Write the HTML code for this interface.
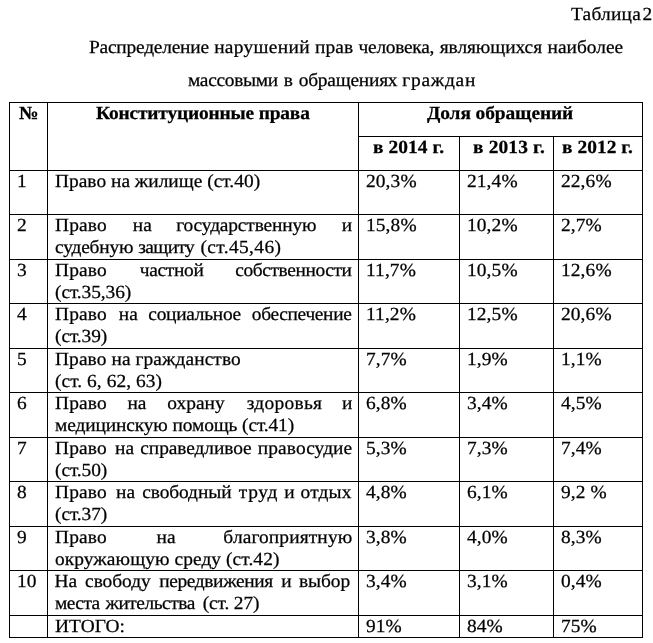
<!DOCTYPE html>
<html lang="ru"><head><meta charset="utf-8"><title>Таблица 2</title>
<style>
html,body{margin:0;padding:0;background:#fff}
body{width:653px;height:643px;position:relative;overflow:hidden;font-family:"Liberation Serif","Times New Roman",serif;font-size:18.5px;color:#000}
.h,.v{position:absolute;background:#000}
.h{height:1px}.v{width:1px}
.t{position:absolute;white-space:pre;-webkit-text-stroke:0.25px #000;text-rendering:geometricPrecision;line-height:20px;height:20px;transform-origin:0 0;transform:scaleX(1.049)}
.t span{position:absolute;top:0}
.b{font-weight:bold}
</style></head><body>

<div class="h" style="left:9px;top:102px;width:634px"></div>
<div class="h" style="left:358px;top:136px;width:285px"></div>
<div class="h" style="left:9px;top:170px;width:634px"></div>
<div class="h" style="left:9px;top:214px;width:634px"></div>
<div class="h" style="left:9px;top:259px;width:634px"></div>
<div class="h" style="left:9px;top:303px;width:634px"></div>
<div class="h" style="left:9px;top:348px;width:634px"></div>
<div class="h" style="left:9px;top:392px;width:634px"></div>
<div class="h" style="left:9px;top:437px;width:634px"></div>
<div class="h" style="left:9px;top:481px;width:634px"></div>
<div class="h" style="left:9px;top:526px;width:634px"></div>
<div class="h" style="left:9px;top:570px;width:634px"></div>
<div class="h" style="left:9px;top:615px;width:634px"></div>
<div class="h" style="left:9px;top:637px;width:634px"></div>
<div class="v" style="left:9px;top:102px;height:536px"></div>
<div class="v" style="left:47px;top:102px;height:536px"></div>
<div class="v" style="left:358px;top:102px;height:536px"></div>
<div class="v" style="left:459px;top:136px;height:502px"></div>
<div class="v" style="left:553px;top:136px;height:502px"></div>
<div class="v" style="left:642px;top:102px;height:536px"></div>
<div class="t" style="left:571.1px;top:5.0px"><span style="left:0.0px;letter-spacing:0.21px">Таблица</span> <span style="left:68.1px;letter-spacing:0.00px">2</span></div>
<div class="t" style="left:88.9px;top:38.0px"><span style="left:0.0px;letter-spacing:-0.21px">Распределение</span> <span style="left:119.3px;letter-spacing:0.31px">нарушений</span> <span style="left:215.5px;letter-spacing:0.04px">прав</span> <span style="left:257.0px;letter-spacing:-0.27px">человека,</span> <span style="left:334.3px;letter-spacing:-0.06px">являющихся</span> <span style="left:437.2px;letter-spacing:-0.00px">наиболее</span></div>
<div class="t" style="left:187.8px;top:71.0px"><span style="left:0.0px;letter-spacing:-0.29px">массовыми</span> <span style="left:91.3px;letter-spacing:0.00px">в</span> <span style="left:105.5px;letter-spacing:-0.21px">обращениях</span> <span style="left:204.3px;letter-spacing:0.71px">граждан</span></div>
<div class="t b" style="left:18.9px;top:104.0px;letter-spacing:0.00px">№</div>
<div class="t b" style="left:96.0px;top:104.0px;letter-spacing:-0.16px">Конституционные права</div>
<div class="t b" style="left:427.1px;top:104.0px;letter-spacing:-0.09px">Доля обращений</div>
<div class="t b" style="left:373.2px;top:138.0px;letter-spacing:0.07px">в 2014 г.</div>
<div class="t b" style="left:472.8px;top:138.0px;letter-spacing:0.15px">в 2013 г.</div>
<div class="t b" style="left:562.2px;top:138.0px;letter-spacing:0.05px">в 2012 г.</div>
<div class="t" style="left:17.3px;top:172.0px;letter-spacing:0.00px">1</div>
<div class="t" style="left:54.9px;top:172.0px;letter-spacing:0.01px">Право на жилище (ст.40)</div>
<div class="t" style="left:365.8px;top:172.0px;letter-spacing:0.10px">20,3%</div>
<div class="t" style="left:467.2px;top:172.0px;letter-spacing:0.10px">21,4%</div>
<div class="t" style="left:561.2px;top:172.0px;letter-spacing:0.10px">22,6%</div>
<div class="t" style="left:17.3px;top:216.0px;letter-spacing:0.00px">2</div>
<div class="t" style="left:55.1px;top:216.0px"><span style="left:0.0px;letter-spacing:0.13px">Право</span> <span style="left:74.2px;letter-spacing:0.00px">на</span> <span style="left:115.6px;letter-spacing:-0.15px">государственную</span> <span style="left:273.3px;letter-spacing:0.00px">и</span></div>
<div class="t" style="left:55.1px;top:238.0px"><span style="left:0.0px;letter-spacing:-0.18px">судебную</span> <span style="left:79.4px;letter-spacing:-0.58px">защиту</span> <span style="left:138.6px;letter-spacing:0.37px">(ст.45,46)</span></div>
<div class="t" style="left:365.8px;top:216.0px;letter-spacing:0.10px">15,8%</div>
<div class="t" style="left:467.2px;top:216.0px;letter-spacing:0.10px">10,2%</div>
<div class="t" style="left:561.2px;top:216.0px;letter-spacing:0.10px">2,7%</div>
<div class="t" style="left:17.3px;top:261.0px;letter-spacing:0.00px">3</div>
<div class="t" style="left:55.1px;top:261.0px"><span style="left:0.0px;letter-spacing:0.13px">Право</span> <span style="left:80.8px;letter-spacing:-0.29px">частной</span> <span style="left:171.8px;letter-spacing:-0.37px">собственности</span></div>
<div class="t" style="left:54.9px;top:283.0px;letter-spacing:-0.08px">(ст.35,36)</div>
<div class="t" style="left:365.8px;top:261.0px;letter-spacing:0.10px">11,7%</div>
<div class="t" style="left:467.2px;top:261.0px;letter-spacing:0.10px">10,5%</div>
<div class="t" style="left:561.2px;top:261.0px;letter-spacing:0.10px">12,6%</div>
<div class="t" style="left:17.3px;top:305.0px;letter-spacing:0.00px">4</div>
<div class="t" style="left:55.1px;top:305.0px"><span style="left:0.0px;letter-spacing:0.13px">Право</span> <span style="left:60.9px;letter-spacing:0.00px">на</span> <span style="left:89.0px;letter-spacing:-0.27px">социальное</span> <span style="left:187.6px;letter-spacing:-0.31px">обеспечение</span></div>
<div class="t" style="left:54.9px;top:327.0px;letter-spacing:-0.08px">(ст.39)</div>
<div class="t" style="left:365.8px;top:305.0px;letter-spacing:0.10px">11,2%</div>
<div class="t" style="left:467.2px;top:305.0px;letter-spacing:0.10px">12,5%</div>
<div class="t" style="left:561.2px;top:305.0px;letter-spacing:0.10px">20,6%</div>
<div class="t" style="left:17.3px;top:350.0px;letter-spacing:0.00px">5</div>
<div class="t" style="left:54.9px;top:350.0px;letter-spacing:0.08px">Право на гражданство</div>
<div class="t" style="left:54.9px;top:372.0px;letter-spacing:0.05px">(ст. 6, 62, 63)</div>
<div class="t" style="left:365.8px;top:350.0px;letter-spacing:0.10px">7,7%</div>
<div class="t" style="left:467.2px;top:350.0px;letter-spacing:0.10px">1,9%</div>
<div class="t" style="left:561.2px;top:350.0px;letter-spacing:0.10px">1,1%</div>
<div class="t" style="left:17.3px;top:394.0px;letter-spacing:0.00px">6</div>
<div class="t" style="left:55.1px;top:394.0px"><span style="left:0.0px;letter-spacing:0.13px">Право</span> <span style="left:69.0px;letter-spacing:0.00px">на</span> <span style="left:107.0px;letter-spacing:0.03px">охрану</span> <span style="left:182.7px;letter-spacing:0.29px">здоровья</span> <span style="left:273.6px;letter-spacing:0.00px">и</span></div>
<div class="t" style="left:54.9px;top:416.0px;letter-spacing:-0.11px">медицинскую помощь (ст.41)</div>
<div class="t" style="left:365.8px;top:394.0px;letter-spacing:0.10px">6,8%</div>
<div class="t" style="left:467.2px;top:394.0px;letter-spacing:0.10px">3,4%</div>
<div class="t" style="left:561.2px;top:394.0px;letter-spacing:0.10px">4,5%</div>
<div class="t" style="left:17.3px;top:439.0px;letter-spacing:0.00px">7</div>
<div class="t" style="left:55.1px;top:439.0px"><span style="left:0.0px;letter-spacing:0.13px">Право</span> <span style="left:57.3px;letter-spacing:0.00px">на</span> <span style="left:81.3px;letter-spacing:-0.07px">справедливое</span> <span style="left:193.4px;letter-spacing:0.07px">правосудие</span></div>
<div class="t" style="left:54.9px;top:461.0px;letter-spacing:-0.08px">(ст.50)</div>
<div class="t" style="left:365.8px;top:439.0px;letter-spacing:0.10px">5,3%</div>
<div class="t" style="left:467.2px;top:439.0px;letter-spacing:0.10px">7,3%</div>
<div class="t" style="left:561.2px;top:439.0px;letter-spacing:0.10px">7,4%</div>
<div class="t" style="left:17.3px;top:483.0px;letter-spacing:0.00px">8</div>
<div class="t" style="left:55.1px;top:483.0px"><span style="left:0.0px;letter-spacing:0.13px">Право</span> <span style="left:58.2px;letter-spacing:0.00px">на</span> <span style="left:83.1px;letter-spacing:-0.08px">свободный</span> <span style="left:175.2px;letter-spacing:0.66px">труд</span> <span style="left:218.5px;letter-spacing:0.00px">и</span> <span style="left:234.1px;letter-spacing:0.12px">отдых</span></div>
<div class="t" style="left:54.9px;top:505.0px;letter-spacing:-0.08px">(ст.37)</div>
<div class="t" style="left:365.8px;top:483.0px;letter-spacing:0.10px">4,8%</div>
<div class="t" style="left:467.2px;top:483.0px;letter-spacing:0.10px">6,1%</div>
<div class="t" style="left:561.2px;top:483.0px;letter-spacing:0.10px">9,2 %</div>
<div class="t" style="left:17.3px;top:528.0px;letter-spacing:0.00px">9</div>
<div class="t" style="left:55.1px;top:528.0px"><span style="left:0.0px;letter-spacing:0.13px">Право</span> <span style="left:96.8px;letter-spacing:0.00px">на</span> <span style="left:160.5px;letter-spacing:0.12px">благоприятную</span></div>
<div class="t" style="left:54.9px;top:550.0px;letter-spacing:0.08px">окружающую среду (ст.42)</div>
<div class="t" style="left:365.8px;top:528.0px;letter-spacing:0.10px">3,8%</div>
<div class="t" style="left:467.2px;top:528.0px;letter-spacing:0.10px">4,0%</div>
<div class="t" style="left:561.2px;top:528.0px;letter-spacing:0.10px">8,3%</div>
<div class="t" style="left:17.3px;top:572.0px;letter-spacing:0.00px">10</div>
<div class="t" style="left:55.1px;top:572.0px"><span style="left:-0.4px;letter-spacing:0.00px">На</span> <span style="left:28.7px;letter-spacing:-0.06px">свободу</span> <span style="left:99.3px;letter-spacing:-0.34px">передвижения</span> <span style="left:215.6px;letter-spacing:0.00px">и</span> <span style="left:232.5px;letter-spacing:-0.04px">выбор</span></div>
<div class="t" style="left:55.1px;top:594.0px"><span style="left:0.0px;letter-spacing:-0.51px">места</span> <span style="left:48.1px;letter-spacing:-0.45px">жительства</span> <span style="left:140.8px;letter-spacing:-0.12px">(ст. 27)</span></div>
<div class="t" style="left:365.8px;top:572.0px;letter-spacing:0.10px">3,4%</div>
<div class="t" style="left:467.2px;top:572.0px;letter-spacing:0.10px">3,1%</div>
<div class="t" style="left:561.2px;top:572.0px;letter-spacing:0.10px">0,4%</div>
<div class="t" style="left:55.1px;top:617.0px;letter-spacing:0.04px">ИТОГО:</div>
<div class="t" style="left:365.8px;top:617.0px;letter-spacing:0.10px">91%</div>
<div class="t" style="left:467.2px;top:617.0px;letter-spacing:0.10px">84%</div>
<div class="t" style="left:561.2px;top:617.0px;letter-spacing:0.10px">75%</div>
</body></html>
